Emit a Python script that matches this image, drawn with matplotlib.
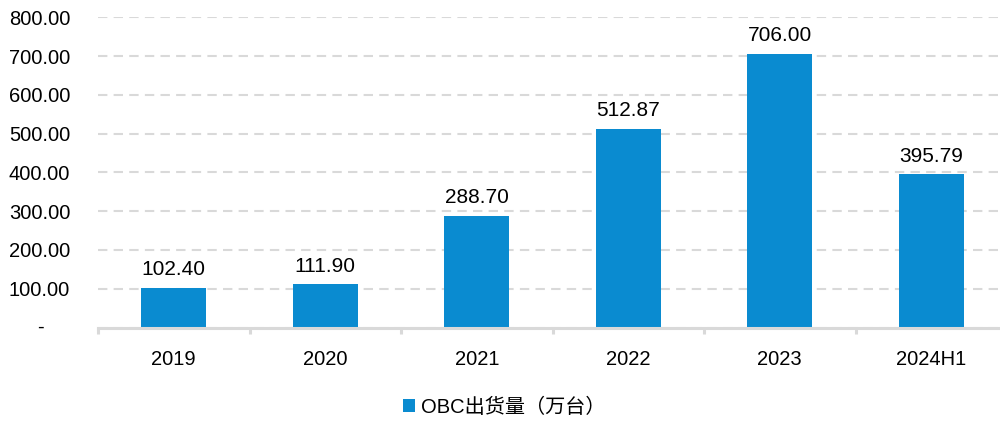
import matplotlib
matplotlib.use("Agg")
import matplotlib.pyplot as plt
import matplotlib.transforms as mtransforms
from matplotlib.patches import Patch
import numpy as np

# data
years = ["2019", "2020", "2021", "2022", "2023", "2024H1"]
shipments = [102.40, 111.90, 288.70, 512.87, 706.00, 395.79]
y_ticks = [0, 100, 200, 300, 400, 500, 600, 700, 800]
series_name = "OBC出货量（万台）"

bar_color = "#0A8BD0"
grid_color = "#D9D9D9"
num_font = ["Liberation Sans", "DejaVu Sans"]
cjk_font = ["Liberation Sans", "Noto Sans CJK SC", "DejaVu Sans"]
fs = 14.5

fig = plt.figure(figsize=(10, 4.21), dpi=100)
ax = fig.add_axes([0.098, 1 - 327.5 / 421, 0.902, (327.5 - 17.3) / 421])

x = np.arange(len(years))
ax.bar(x, shipments, width=0.43, color=bar_color, zorder=3)

for xi, v in zip(x, shipments):
    ax.annotate(f"{v:.2f}", (xi, v), xytext=(0, 6), textcoords="offset points",
                ha="center", va="bottom", fontsize=15, family=num_font, color="#000000")

ax.set_ylim(0, 800)
ax.set_xlim(-0.5, -0.5 + 902 / 151.5)
ax.set_yticks(y_ticks)
ax.set_yticklabels(["" if t == 0 else f"{t:.2f}" for t in y_ticks],
                   fontsize=fs, family=num_font)
ax.tick_params(axis="y", length=0, pad=20)
trans = mtransforms.blended_transform_factory(fig.transFigure, ax.transData)
ax.text(0.040, 0, "-", transform=trans, ha="center", va="center",
        fontsize=fs, family=num_font)

ax.set_xticks(x)
ax.set_xticklabels(years, fontsize=fs, family=num_font)
ax.set_xticks(np.arange(len(years)) - 0.5, minor=True)
ax.tick_params(axis="x", which="major", length=0, pad=16)
ax.tick_params(axis="x", which="minor", length=4.5, width=2.2, color=grid_color, direction="out")

ax.yaxis.grid(True, color=grid_color, linestyle=(0, (4.5, 3)), linewidth=1.5, zorder=0)
for s in ["top", "right", "left"]:
    ax.spines[s].set_visible(False)
ax.spines["bottom"].set_color(grid_color)
ax.spines["bottom"].set_linewidth(2.2)
ax.spines["bottom"].set_zorder(4)

handle = Patch(facecolor=bar_color, edgecolor="none")
fig.legend([handle], [series_name], loc="center", bbox_to_anchor=(0.504, 1 - 407 / 421),
           frameon=False, handlelength=0.6, handleheight=0.6, handletextpad=0.3,
           prop={"family": cjk_font, "size": fs})

fig.savefig("out.png", dpi=100)
